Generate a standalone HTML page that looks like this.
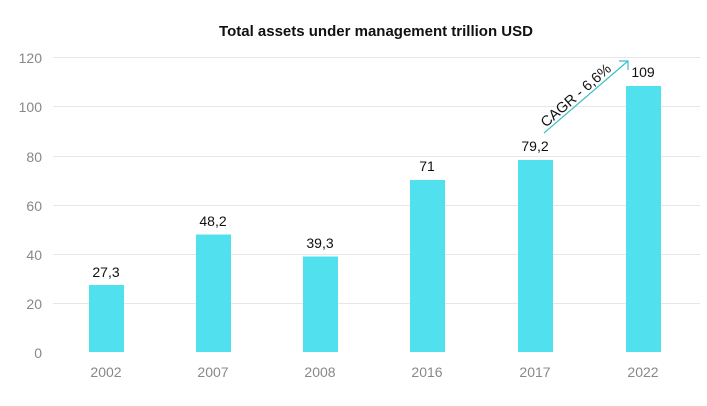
<!DOCTYPE html>
<html><head><style>
body{margin:0;background:#fff;}
svg{display:block;font-family:"Liberation Sans",sans-serif;}
</style></head><body>
<svg width="707" height="406" viewBox="0 0 707 406">
<text x="376" y="36" text-anchor="middle" font-size="15" font-weight="bold" fill="#111">Total assets under management trillion USD</text>
<g stroke="#e6e6e6" stroke-width="1">
<line x1="53" x2="700" y1="57.5" y2="57.5"/>
<line x1="53" x2="700" y1="106.5" y2="106.5"/>
<line x1="53" x2="700" y1="156.5" y2="156.5"/>
<line x1="53" x2="700" y1="205.5" y2="205.5"/>
<line x1="53" x2="700" y1="254.5" y2="254.5"/>
<line x1="53" x2="700" y1="303.5" y2="303.5"/>
</g>
<g font-size="14" fill="#888" text-anchor="end">
<text x="42" y="63">120</text>
<text x="42" y="112">100</text>
<text x="42" y="162">80</text>
<text x="42" y="211">60</text>
<text x="42" y="260">40</text>
<text x="42" y="309">20</text>
<text x="42" y="358">0</text>
</g>
<g fill="#50e0ee">
<rect x="89" y="285" width="35" height="67"/>
<rect x="196" y="234.5" width="35" height="117.5"/>
<rect x="303" y="256.5" width="35" height="95.5"/>
<rect x="410" y="180" width="35" height="172"/>
<rect x="518" y="160" width="35" height="192"/>
<rect x="626" y="86" width="35" height="266"/>
</g>
<g font-size="14" fill="#111" text-anchor="middle">
<text x="106" y="277">27,3</text>
<text x="213" y="226">48,2</text>
<text x="320" y="248">39,3</text>
<text x="427" y="171">71</text>
<text x="535" y="151">79,2</text>
<text x="643" y="77">109</text>
</g>
<g font-size="14" fill="#888" text-anchor="middle">
<text x="106" y="377">2002</text>
<text x="213" y="377">2007</text>
<text x="320" y="377">2008</text>
<text x="427" y="377">2016</text>
<text x="535" y="377">2017</text>
<text x="643" y="377">2022</text>
</g>
<g stroke="#3bbfc8" stroke-width="1.2" fill="none">
<line x1="544" y1="133" x2="628" y2="61"/>
<polyline points="619,61 628,61 628,70"/>
</g>
<text x="0" y="0" font-size="14.5" fill="#111" text-anchor="middle" transform="translate(579,99) rotate(-41)">CAGR - 6,6%</text>
</svg>
</body></html>
